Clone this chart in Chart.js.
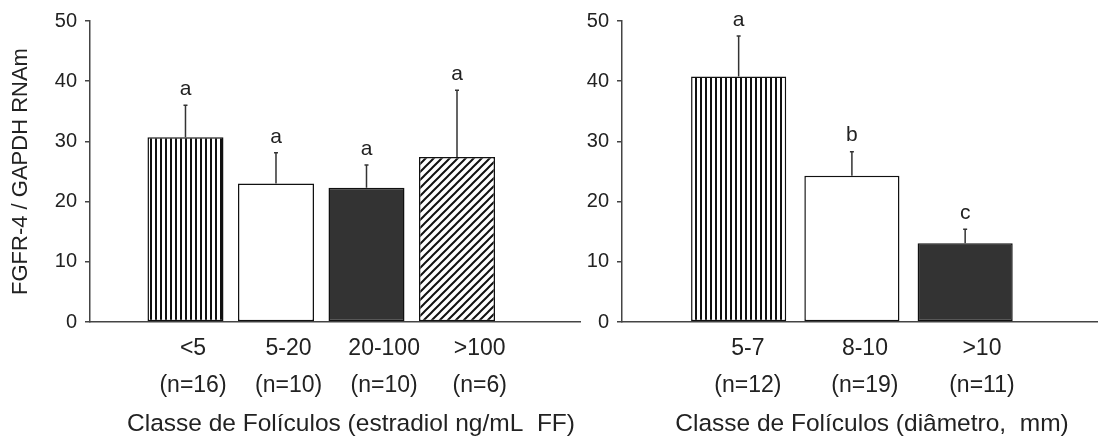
<!DOCTYPE html>
<html>
<head>
<meta charset="utf-8">
<script src="https://cdn.jsdelivr.net/npm/chart.js@4.4.0/dist/chart.umd.min.js"></script>
<style>
  body { margin: 0; background: #fff; }
  #wrap { position: relative; width: 1098px; height: 436px; }
  canvas { position: absolute; top: 0; }
</style>
</head>
<body>
<div id="wrap">
  <canvas id="left" width="585" height="436" style="left:0"></canvas>
  <canvas id="right" width="513" height="436" style="left:585px"></canvas>
</div>
<script>
// left panel: estradiol classes
const leftLabels = ['<5', '5-20', '20-100', '>100'];
const leftN = ['(n=16)', '(n=10)', '(n=10)', '(n=6)'];
const leftMeans = [30.7, 23.0, 22.3, 27.4];
const leftErrors = [5.3, 5.1, 3.8, 11.1];
const leftLetters = ['a', 'a', 'a', 'a'];

// right panel: diameter classes
const rightLabels = ['5-7', '8-10', '>10'];
const rightN = ['(n=12)', '(n=19)', '(n=11)'];
const rightMeans = [40.8, 24.3, 13.1];
const rightErrors = [6.7, 4.0, 2.3];
const rightLetters = ['a', 'b', 'c'];

const yTicks = [0, 10, 20, 30, 40, 50];

const FONT = '"Liberation Sans", Arial, sans-serif';
Chart.defaults.font.family = FONT;
Chart.defaults.color = '#222';

function stripes() {
  const c = document.createElement('canvas');
  c.width = 5; c.height = 5;
  const g = c.getContext('2d');
  g.fillStyle = '#fff'; g.fillRect(0, 0, 5, 5);
  g.fillStyle = '#111'; g.fillRect(0, 0, 2, 5);
  return g.createPattern(c, 'repeat');
}

function hatch() {
  const c = document.createElement('canvas');
  c.width = 8; c.height = 8;
  const g = c.getContext('2d');
  g.fillStyle = '#fff'; g.fillRect(0, 0, 8, 8);
  g.strokeStyle = '#111'; g.lineWidth = 2;
  g.beginPath();
  g.moveTo(0, 8); g.lineTo(8, 0);
  g.moveTo(-2, 2); g.lineTo(2, -2);
  g.moveTo(6, 10); g.lineTo(10, 6);
  g.stroke();
  return g.createPattern(c, 'repeat');
}

// error whiskers, significance letters and the x title
const errorPlugin = {
  id: 'errorBars',
  afterDatasetsDraw(chart, args, opts) {
    const { ctx, scales: { x, y } } = chart;
    ctx.save();
    opts.means.forEach((m, i) => {
      const px = x.getPixelForValue(i + 1);
      const top = y.getPixelForValue(m + opts.errors[i]);
      const base = y.getPixelForValue(m);
      ctx.strokeStyle = '#333';
      ctx.lineWidth = 1.5;
      ctx.beginPath();
      ctx.moveTo(px, base);
      ctx.lineTo(px, top);
      ctx.moveTo(px - 2, top);
      ctx.lineTo(px + 2, top);
      ctx.stroke();
      ctx.fillStyle = '#222';
      ctx.font = '21px ' + FONT;
      ctx.textAlign = 'center';
      ctx.textBaseline = 'middle';
      ctx.fillText(opts.letters[i], px, top - 16);
    });
    ctx.restore();
  },
  afterDraw(chart, args, opts) {
    const { ctx, scales: { x } } = chart;
    ctx.save();
    ctx.fillStyle = '#222';
    ctx.font = '24.5px ' + FONT;
    ctx.textAlign = 'center';
    ctx.textBaseline = 'alphabetic';
    ctx.fillText(opts.title, (x.left + x.right) / 2 + opts.titleShift, x.bottom - 5);
    ctx.restore();
  }
};

function makeChart(id, p) {
  return new Chart(document.getElementById(id), {
    type: 'bar',
    data: {
      datasets: [{
        data: p.means.map((v, i) => ({ x: i + 1, y: v })),
        backgroundColor: p.fills,
        borderColor: '#111',
        borderWidth: 1.5,
        borderSkipped: false,
        categoryPercentage: 1,
        barPercentage: 0.84,
      }],
    },
    options: {
      responsive: false,
      animation: false,
      layout: { padding: { top: 21, right: p.padRight, bottom: 0, left: 0 } },
      plugins: {
        legend: { display: false },
        tooltip: { enabled: false },
        errorBars: {
          means: p.means, errors: p.errors, letters: p.letters,
          title: p.xTitle, titleShift: p.titleShift,
        },
      },
      scales: {
        x: {
          type: 'linear',
          offset: false,
          bounds: 'data',
          min: p.xMin,
          max: p.xMax,
          // tick labels in the original sit a little right of the bars
          afterBuildTicks: (s) => {
            s.ticks = p.labels.map((_, i) => ({ value: i + 1 + p.labelShift + i * p.labelStretch }));
          },
          afterFit: (s) => { s.height = 114; },
          grid: { display: false, drawTicks: false, offset: false },
          border: { display: true, color: '#444', width: 1.5 },
          ticks: {
            autoSkip: false,
            maxRotation: 0,
            padding: 8,
            color: '#222',
            font: { size: 23, lineHeight: 1.62 },
            callback: (v, i) => [p.labels[i], p.ns[i]],
          },
          title: { display: false },
        },
        y: {
          min: 0,
          max: 50,
          afterBuildTicks: (s) => { s.ticks = yTicks.map((v) => ({ value: v })); },
          afterFit: (s) => { s.width = p.yWidth; },
          grid: { drawOnChartArea: false, drawTicks: true, tickLength: 5, color: '#444', lineWidth: 1.5 },
          border: { display: true, color: '#444', width: 1.5 },
          ticks: { padding: 8, color: '#222', font: { size: 20 } },
          title: {
            display: !!p.yTitle,
            text: p.yTitle,
            color: '#222',
            font: { size: 22 },
            padding: { top: 8, bottom: 0 },
          },
        },
      },
    },
    plugins: [errorPlugin],
  });
}

makeChart('left', {
  labels: leftLabels, ns: leftN, means: leftMeans, errors: leftErrors, letters: leftLetters,
  fills: [stripes(), '#fff', '#333', hatch()],
  xMin: -0.055, xMax: 5.359, yWidth: 90, padRight: 5,
  labelShift: 0.083, labelStretch: 0.056, titleShift: 16,
  xTitle: 'Classe de Folículos (estradiol ng/mL  FF)',
  yTitle: 'FGFR-4 / GAPDH RNAm',
});

makeChart('right', {
  labels: rightLabels, ns: rightN, means: rightMeans, errors: rightErrors, letters: rightLetters,
  fills: [stripes(), '#fff', '#333'],
  xMin: -0.030, xMax: 4.173, yWidth: 37, padRight: 0,
  labelShift: 0.082, labelStretch: 0.033, titleShift: 12,
  xTitle: 'Classe de Folículos (diâmetro,  mm)',
  yTitle: '',
});
</script>
</body>
</html>
